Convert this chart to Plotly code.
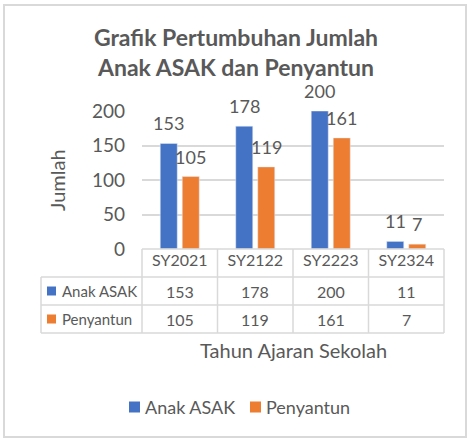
import plotly.graph_objects as go

# data
tahun = ["SY2021", "SY2122", "SY2223", "SY2324"]
anak_asak = [153, 178, 200, 11]
penyantun = [105, 119, 161, 7]
seri = ["Anak ASAK", "Penyantun"]
warna = ["#4472C4", "#ED7D31"]

W, H = 472, 444
PL, PR, PT, PB = 142, 444, 111, 249   # plot area in pixels
FONT = "Lato"
GREY = "#595959"
LINE = "#D9D9D9"


def px(x):
    return (x - PL) / (PR - PL)


def py(y):
    return (PB - y) / (PB - PT)


fig = go.Figure()
for nama, nilai, c in zip(seri, [anak_asak, penyantun], warna):
    fig.add_trace(go.Bar(x=tahun, y=nilai, name=nama, marker_color=c))

ann = []
shapes = []

# data labels above bars
for k, nilai in enumerate([anak_asak, penyantun]):
    for t, v in zip(tahun, nilai):
        ann.append(dict(x=t, y=v, xref="x", yref="y", text=str(v), showarrow=False,
                        xshift=-11 if k == 0 else 11, yshift=20, yanchor="middle",
                        font=dict(size=18, color=GREY)))

# data table
rows = [277, 305, 333]
n = len(tahun)
for y in [PB] + rows:
    x0 = PL if y == PB else 41
    shapes.append(dict(type="line", xref="paper", yref="paper", x0=px(x0), x1=1,
                       y0=py(y), y1=py(y), line=dict(color=LINE, width=1.5)))
for i in range(n + 1):
    shapes.append(dict(type="line", xref="paper", yref="paper", x0=i / n, x1=i / n,
                       y0=py(PB), y1=py(333), line=dict(color=LINE, width=1.5)))
shapes.append(dict(type="line", xref="paper", yref="paper", x0=px(41), x1=px(41),
                   y0=py(277), y1=py(333), line=dict(color=LINE, width=1.5)))

for r, (nama, nilai, c) in enumerate(zip(seri, [anak_asak, penyantun], warna)):
    yc = (rows[r] + rows[r + 1]) / 2
    shapes.append(dict(type="rect", xref="paper", yref="paper", x0=px(47), x1=px(56),
                       y0=py(yc - 4.5), y1=py(yc + 4.5), fillcolor=c, line=dict(width=0)))
    ann.append(dict(x=px(60), y=py(yc), xref="paper", yref="paper", text=nama,
                    xanchor="left", yanchor="middle", showarrow=False,
                    font=dict(size=15, color=GREY)))
    for t, v in zip(tahun, nilai):
        ann.append(dict(x=t, y=py(yc), xref="x", yref="paper", text=str(v),
                        showarrow=False, yanchor="middle", font=dict(size=16, color=GREY)))

# legend drawn like Excel: small square + name
leg_x = [129, 250]
for nama, c, lx in zip(seri, warna, leg_x):
    shapes.append(dict(type="rect", xref="paper", yref="paper", x0=px(lx), x1=px(lx + 11),
                       y0=py(407 - 5.5), y1=py(407 + 5.5), fillcolor=c, line=dict(width=0)))
    ann.append(dict(x=px(lx + 14), y=py(407), xref="paper", yref="paper", text=nama,
                    xanchor="left", yanchor="middle", showarrow=False,
                    font=dict(size=18, color=GREY)))

# axis titles
ann.append(dict(x=px(43), y=0.5, xref="paper", yref="paper", text="Jumlah", textangle=-90,
                showarrow=False, font=dict(size=20, color=GREY)))
ann.append(dict(x=0.5, y=py(350), xref="paper", yref="paper", text="Tahun Ajaran Sekolah",
                showarrow=False, yanchor="middle", font=dict(size=20, color=GREY)))

# outer border
shapes.append(dict(type="rect", xref="paper", yref="paper", x0=px(4), x1=px(466),
                   y0=py(5), y1=py(437), line=dict(color=LINE, width=2), layer="below"))

fig.update_layout(
    width=W, height=H,
    margin=dict(l=PL, r=W - PR, t=PT, b=H - PB),
    paper_bgcolor="white", plot_bgcolor="white",
    font=dict(family=FONT, color=GREY),
    title=dict(text="<b>Grafik Pertumbuhan Jumlah<br>Anak ASAK dan Penyantun</b>",
               x=0.5, xref="container", y=1 - 46 / H, yref="container", yanchor="middle",
               font=dict(size=23, color=GREY, family=FONT)),
    barmode="group", bargap=0.417, bargroupgap=0.227,
    showlegend=False,
    annotations=ann, shapes=shapes,
)
fig.update_yaxes(range=[0, 200], dtick=50, gridcolor=LINE, gridwidth=1.5, zeroline=False,
                 showline=False, tickfont=dict(size=19, color=GREY), ticklabelstandoff=16)
fig.update_xaxes(showgrid=False, showline=False, tickfont=dict(size=16, color=GREY))

# page body has an 8px default margin; remove it so the chart fills the window
fig.write_html("out.html", config={"displayModeBar": False},
               post_script="document.body.style.margin='0';")
